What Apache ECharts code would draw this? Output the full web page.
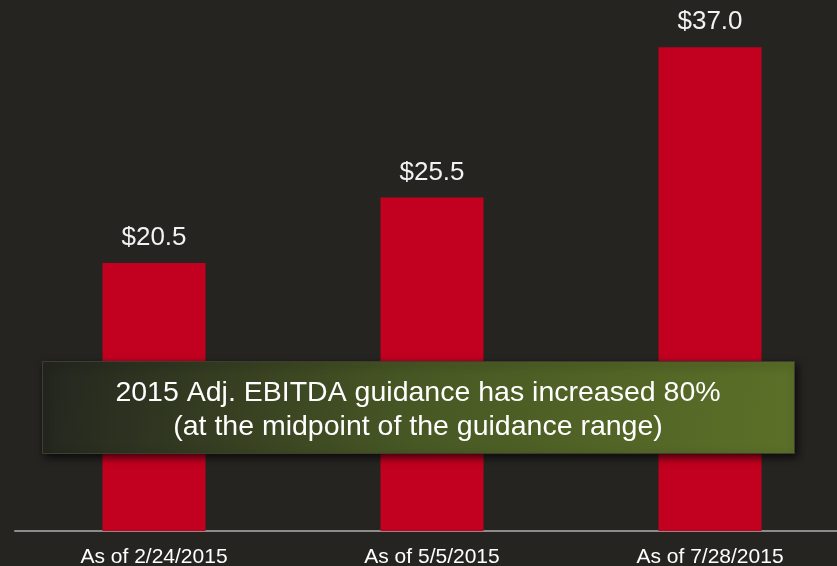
<!DOCTYPE html>
<html>
<head>
<meta charset="utf-8">
<style>
  html, body { margin: 0; padding: 0; background: #262421; }
  #chart { width: 837px; height: 566px; }
</style>
<script src="https://cdn.jsdelivr.net/npm/echarts@6/dist/echarts.min.js"></script>
</head>
<body>
<div id="chart"></div>
<script>
// guidance dates and adj. EBITDA midpoint ($M)
const categories = ['As of 2/24/2015', 'As of 5/5/2015', 'As of 7/28/2015'];
const ebitda = [20.5, 25.5, 37.0];
const noteLines = ['2015 Adj. EBITDA guidance has increased 80%', '(at the midpoint of the guidance range)'];

const myChart = echarts.init(document.getElementById('chart'));
myChart.setOption({
  backgroundColor: '#262421',
  animation: false,
  grid: {
    left: 15,
    right: -12,
    top: 8,
    bottom: 35,
    outerBoundsMode: 'none',
    containLabel: false
  },
  xAxis: {
    type: 'category',
    data: categories,
    axisLine: {
      lineStyle: { color: '#8c8c8c', width: 2 }
    },
    axisTick: { show: false },
    axisLabel: {
      color: '#ffffff',
      fontFamily: 'Liberation Sans, Arial, sans-serif',
      fontSize: 21,
      margin: 16
    }
  },
  yAxis: {
    type: 'value',
    min: 0,
    max: 40,
    show: false,
    splitLine: { show: false }
  },
  series: [
    {
      type: 'bar',
      data: ebitda,
      barWidth: 103,
      itemStyle: { color: '#c20020' },
      label: {
        show: true,
        position: 'top',
        distance: 12,
        color: '#f2f2f2',
        fontFamily: 'Liberation Sans, Arial, sans-serif',
        fontSize: 26,
        formatter: p => '$' + p.value.toFixed(1)
      }
    }
  ],
  graphic: [
    {
      type: 'rect',
      left: 42,
      top: 361,
      shape: { width: 752, height: 92 },
      style: {
        fill: new echarts.graphic.LinearGradient(0, 0, 1, 1, [
          { offset: 0, color: '#24261f' },
          { offset: 0.5, color: '#485824' },
          { offset: 1, color: '#5c7028' }
        ]),
        stroke: '#3c3e32',
        lineWidth: 1,
        shadowBlur: 8,
        shadowColor: 'rgba(0,0,0,0.7)',
        shadowOffsetX: 2,
        shadowOffsetY: 3
      },
      z: 100
    },
    {
      type: 'text',
      x: 418,
      y: 376,
      style: {
        text: noteLines.join('\n'),
        fill: '#ffffff',
        font: '28.5px "Liberation Sans", Arial, sans-serif',
        lineHeight: 34,
        align: 'center',
        verticalAlign: 'top'
      },
      z: 101
    }
  ]
});
</script>
</body>
</html>
